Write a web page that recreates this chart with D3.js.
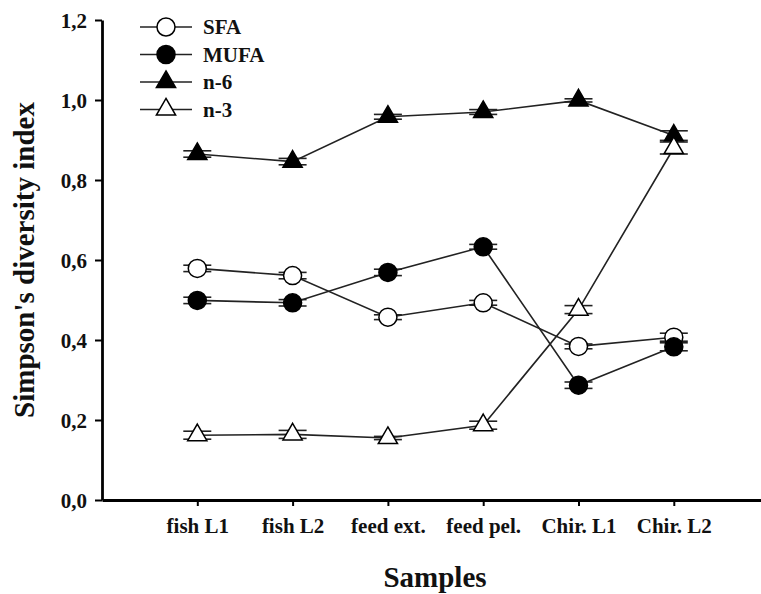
<!DOCTYPE html>
<html>
<head>
<meta charset="utf-8">
<script src="https://cdn.jsdelivr.net/npm/d3@7"></script>
<style>
  body { margin: 0; background: #fff; }
  svg text { font-family: "Liberation Serif", "Times New Roman", serif; font-weight: bold; fill: #111; }
</style>
</head>
<body>
<svg id="chart" width="761" height="594"></svg>
<script>
// samples on the x axis
const categories = ["fish L1", "fish L2", "feed ext.", "feed pel.", "Chir. L1", "Chir. L2"];

// Simpson's diversity index
const sfa  = [0.579, 0.561, 0.457, 0.493, 0.384, 0.407];
const mufa = [0.499, 0.493, 0.569, 0.633, 0.287, 0.383];
const n6   = [0.865, 0.846, 0.958, 0.970, 0.999, 0.911];
const n3   = [0.162, 0.164, 0.155, 0.187, 0.476, 0.880];

// error bar half-widths (approx.)
const sfaErr  = [0.008, 0.008, 0.006, 0.006, 0.006, 0.010];
const mufaErr = [0.008, 0.008, 0.008, 0.006, 0.008, 0.010];
const n6Err   = [0.008, 0.008, 0.006, 0.006, 0.004, 0.012];
const n3Err   = [0.010, 0.010, 0.004, 0.010, 0.010, 0.015];

const yTicks = [0, 0.2, 0.4, 0.6, 0.8, 1.0, 1.2];

const series = [
  { name: "SFA",  values: sfa,  err: sfaErr,  shape: d3.symbolCircle,   fill: "#fff" },
  { name: "MUFA", values: mufa, err: mufaErr, shape: d3.symbolCircle,   fill: "#000" },
  { name: "n-6",  values: n6,   err: n6Err,   shape: d3.symbolTriangle, fill: "#000" },
  { name: "n-3",  values: n3,   err: n3Err,   shape: d3.symbolTriangle, fill: "#fff" }
];

const svg = d3.select("#chart");

// x positions are 1..6 on a linear scale that runs off the right edge
const x = d3.scaleLinear().domain([0, 6.915]).range([102, 761]);
const y = d3.scaleLinear().domain([0, 1.2]).range([500, 20]);

const fmt = d => d.toFixed(1).replace(".", ",");

// axes
const xAxis = svg.append("g")
  .attr("transform", "translate(0,500)")
  .call(d3.axisBottom(x)
    .tickValues(d3.range(1, categories.length + 1))
    .tickFormat(i => categories[i - 1])
    .tickSize(6).tickSizeOuter(0).tickPadding(12));

const yAxis = svg.append("g")
  .attr("transform", "translate(102,0)")
  .call(d3.axisLeft(y)
    .tickValues(yTicks)
    .tickFormat(fmt)
    .tickSize(7).tickSizeOuter(0).tickPadding(8));

[xAxis, yAxis].forEach(g => {
  g.select(".domain").attr("stroke", "#000").attr("stroke-width", 2.8);
  g.selectAll(".tick line").attr("stroke", "#000").attr("stroke-width", 2);
  g.selectAll(".tick text").style("font-size", "21px").attr("fill", "#111");
});
xAxis.selectAll(".tick text").attr("dy", "0.71em");
yAxis.selectAll(".tick text").attr("dy", "0.34em");

// axis titles
svg.append("text")
  .attr("x", 435).attr("y", 587)
  .attr("text-anchor", "middle")
  .style("font-size", "29px")
  .text("Samples");

svg.append("text")
  .attr("transform", "translate(34,260) rotate(-90)")
  .attr("text-anchor", "middle")
  .style("font-size", "29px")
  .text("Simpson's diversity index");

const symSize = s => s === d3.symbolCircle ? 255 : 160;

// lines, error bars, markers
series.forEach(s => {
  const pts = s.values.map((v, i) => ({ i: i + 1, v, e: s.err[i] }));

  svg.append("path")
    .datum(pts)
    .attr("fill", "none")
    .attr("stroke", "#222")
    .attr("stroke-width", 1.6)
    .attr("d", d3.line().x(d => x(d.i)).y(d => y(d.v)));

  const caps = svg.append("g").attr("stroke", "#222").attr("stroke-width", 1.6);
  pts.forEach(d => {
    [d.v - d.e, d.v + d.e].forEach(c => {
      caps.append("line")
        .attr("x1", x(d.i) - 14).attr("x2", x(d.i) + 14)
        .attr("y1", y(c)).attr("y2", y(c));
    });
  });

  svg.append("g").selectAll("path")
    .data(pts)
    .join("path")
    .attr("transform", d => `translate(${x(d.i)},${y(d.v)})`)
    .attr("d", d3.symbol(s.shape, symSize(s.shape)))
    .attr("fill", s.fill)
    .attr("stroke", "#000")
    .attr("stroke-width", 1.5);
});

// legend
const legend = svg.append("g");
series.forEach((s, k) => {
  const ly = 27 + k * 27.5;
  legend.append("line")
    .attr("x1", 140).attr("x2", 192)
    .attr("y1", ly).attr("y2", ly)
    .attr("stroke", "#222").attr("stroke-width", 1.6);
  legend.append("path")
    .attr("transform", `translate(166,${ly})`)
    .attr("d", d3.symbol(s.shape, symSize(s.shape)))
    .attr("fill", s.fill)
    .attr("stroke", "#000")
    .attr("stroke-width", 1.5);
  legend.append("text")
    .attr("x", 203).attr("y", ly)
    .attr("dy", "0.35em")
    .style("font-size", "21px")
    .text(s.name);
});
</script>
</body>
</html>
